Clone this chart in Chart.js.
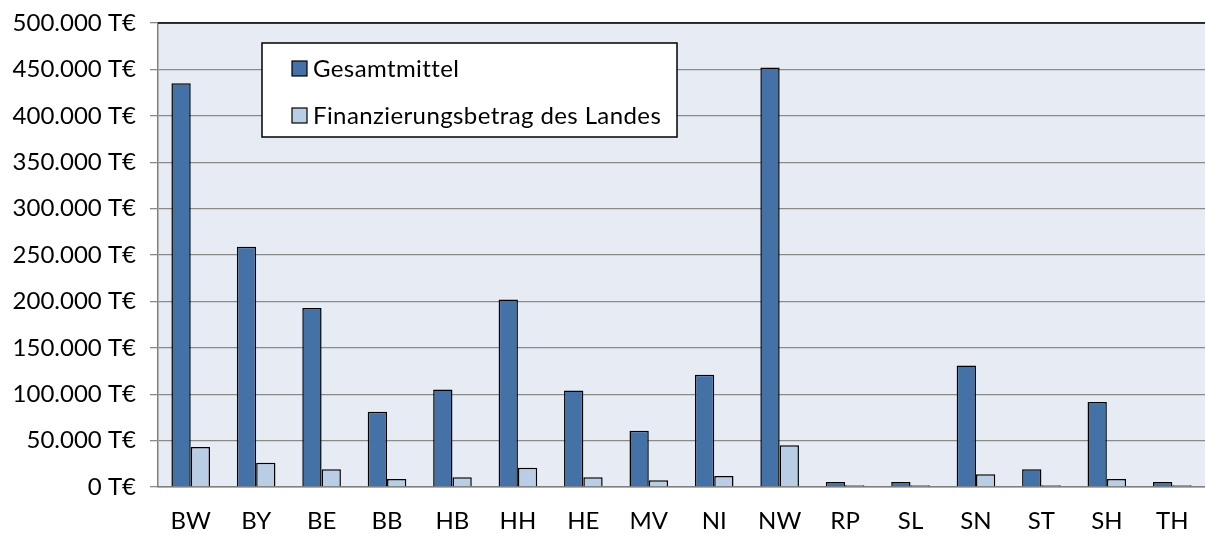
<!DOCTYPE html>
<html>
<head>
<meta charset="utf-8">
<script src="https://cdn.jsdelivr.net/npm/chart.js@4"></script>
<style>
  html, body { margin: 0; padding: 0; background: #fff; }
  #wrap { width: 1205px; height: 534px; }
</style>
</head>
<body>
<div id="wrap"><canvas id="myChart" width="1205" height="534"></canvas></div>
<script>
// Bundesländer
const laender = ["BW", "BY", "BE", "BB", "HB", "HH", "HE", "MV", "NI", "NW", "RP", "SL", "SN", "ST", "SH", "TH"];
// values in T€
const gesamtmittel = [435000, 259000, 193000, 81000, 105000, 202000, 104000, 60500, 121000, 452000, 5400, 5400, 131000, 19000, 91500, 5400];
const landesanteil = [43000, 26000, 19000, 8600, 10500, 20800, 10500, 7200, 11900, 45000, 1800, 1800, 13700, 1800, 8600, 1800];
const seriesNames = ["Gesamtmittel", "Finanzierungsbetrag des Landes"];

const FONT = "Lato, 'Open Sans', sans-serif";

function fmt(v) {
  return String(v).replace(/\B(?=(\d{3})+(?!\d))/g, ".") + " T€";
}

// plot background + legend box
const plotBg = {
  id: "plotBg",
  beforeDraw(chart) {
    const a = chart.chartArea, c = chart.ctx;
    c.save();
    c.fillStyle = "#e6ebf4";
    c.fillRect(a.left, a.top, a.right - a.left, a.bottom - a.top);
    c.restore();
  },
  afterDraw(chart) {
    const c = chart.ctx;
    c.save();
    // top border of plot
    const a = chart.chartArea;
    c.strokeStyle = "#000";
    c.lineWidth = 1.5;
    c.beginPath();
    c.moveTo(a.left, a.top);
    c.lineTo(a.right, a.top);
    c.stroke();

    const x = 262, y = 43, w = 415, h = 94;
    c.fillStyle = "#fff";
    c.fillRect(x, y, w, h);
    c.strokeStyle = "#000";
    c.lineWidth = 1.5;
    c.strokeRect(x, y, w, h);
    c.font = "24px " + FONT;
    c.letterSpacing = "0.4px";
    c.textBaseline = "middle";
    chart.data.datasets.forEach((ds, i) => {
      const yy = y + 25 + i * 47;
      c.fillStyle = ds.backgroundColor;
      c.fillRect(x + 30, yy - 7, 15, 15);
      c.strokeStyle = "#000";
      c.lineWidth = 1.2;
      c.strokeRect(x + 30, yy - 7, 15, 15);
      c.fillStyle = "#000";
      c.fillText(ds.label, x + 51, yy + 1);
    });
    c.restore();
  }
};

const data_1 = {
  labels: laender,
  datasets: [
    {
      label: seriesNames[0],
      data: gesamtmittel,
      backgroundColor: "#4471a6",
      borderColor: "#000",
      borderWidth: 1.5,
    },
    {
      label: seriesNames[1],
      data: landesanteil,
      backgroundColor: "#b9cde5",
      borderColor: "#000",
      borderWidth: 1.5,
    },
  ],
};

const config = {
  type: "bar",
  data: data_1,
  options: {
    responsive: false,
    animation: false,
    layout: { padding: { top: 23, right: 0, left: 0, bottom: 0 } },
    datasets: {
      bar: { categoryPercentage: 0.59, barPercentage: 1.0 },
    },
    scales: {
      x: {
        grid: { display: false },
        border: { color: "#808080", width: 1.5 },
        ticks: { color: "#000", font: { family: FONT, size: 24 }, padding: 12, maxRotation: 0 },
        afterFit(scale) { scale.height = 47; },
      },
      y: {
        min: 0,
        max: 500000,
        ticks: {
          stepSize: 50000,
          color: "#000",
          font: { family: FONT, size: 24 },
          padding: 14,
          callback: (v) => fmt(v),
        },
        grid: { color: "#8a8a8a", lineWidth: 1.3, tickLength: 8 },
        border: { color: "#808080", width: 1.5 },
        afterFit(scale) {
          scale.width = 158;
          scale.paddingTop = 0; // top handled by layout padding
        },
      },
    },
    plugins: {
      legend: { display: false },
      tooltip: { enabled: false },
    },
  },
  plugins: [plotBg],
};

const ctx = document.getElementById("myChart").getContext("2d");
const myChart = new Chart(ctx, config);
</script>
</body>
</html>
